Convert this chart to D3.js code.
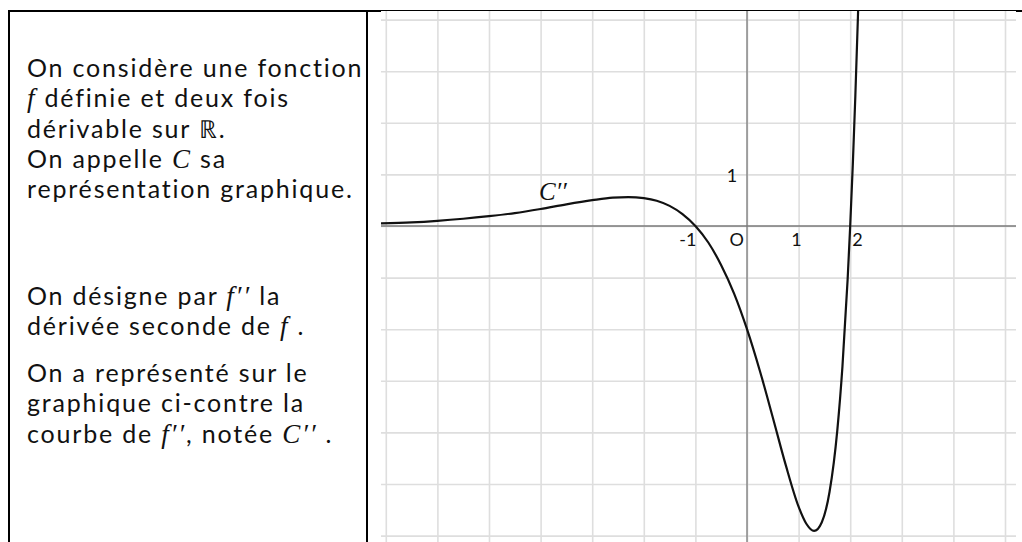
<!DOCTYPE html>
<html>
<head>
<meta charset="utf-8">
<script src="https://cdn.jsdelivr.net/npm/d3@7"></script>
<style>
  body { margin: 0; background: #fff; }
  svg { display: block; }
  .txt { font-family: Lato, "Open Sans", sans-serif; fill: #111; }
  .math { font-family: "Liberation Serif", "DejaVu Serif", serif; font-style: italic; }
</style>
</head>
<body>
<svg id="chart" width="1022" height="542"></svg>
<script>
// curve C'' (x, f''(x))
const curveX = [-7.1, -6.5, -6, -5.5, -5, -4.5, -4, -3.5, -3, -2.6, -2.3, -2, -1.75, -1.5, -1.25, -1,
  -0.75, -0.5, -0.25, 0, 0.25, 0.5, 0.75, 1, 1.15, 1.3, 1.45, 1.6, 1.75, 1.85, 1.95, 2, 2.05, 2.1, 2.15, 2.2];
const curveY = [0.05, 0.07, 0.10, 0.14, 0.19, 0.25, 0.33, 0.42, 0.50, 0.55, 0.56, 0.54, 0.49, 0.39, 0.23, 0,
  -0.32, -0.76, -1.31, -2, -2.81, -3.71, -4.63, -5.44, -5.77, -5.91, -5.74, -5.15, -3.96, -2.72, -1.04, 0, 1.18, 2.53, 4.06, 5.78];

// grid and axis labels
const gridX = [-7, -6, -5, -4, -3, -2, -1, 0, 1, 2, 3, 4, 5];
const gridY = [-6, -5, -4, -3, -2, -1, 0, 1, 2, 3, 4];
const xTickValues = [-1, 0, 1, 2];
const xTickLabels = ['-1', 'O', '1', '2'];
const yTickValues = [1];
const yTickLabels = ['1'];

// left cell text: [text, isMath] segments per line
const block1 = [
  [['On considère une fonction', false]],
  [['f', true], [' définie et deux fois', false]],
  [['dérivable sur ℝ.', false]],
  [['On appelle ', false], ['C', true], [' sa', false]],
  [['représentation graphique.', false]]
];
const block2 = [
  [['On désigne par ', false], ['f′′', true], [' la', false]],
  [['dérivée seconde de ', false], ['f', true], [' .', false]],
  [['On a représenté sur le', false]],
  [['graphique ci-contre la', false]],
  [['courbe de ', false], ['f′′', true], [', notée ', false], ['C′′', true], [' .', false]]
];
const curveLabel = 'C′′';

const svg = d3.select('#chart');
svg.append('rect').attr('width', 1022).attr('height', 542).attr('fill', '#fff');

// plot area in pixels
const plot = { left: 381, right: 1016, top: 11, bottom: 542 };
const unit = 51.6;
const originX = 747;
const originY = 226;

const xScale = d3.scaleLinear()
  .domain([(plot.left - originX) / unit, (plot.right - originX) / unit])
  .range([plot.left, plot.right]);
const yScale = d3.scaleLinear()
  .domain([(originY - plot.bottom) / unit, (originY - plot.top) / unit])
  .range([plot.bottom, plot.top]);

// grid lines
const gridXAxis = d3.axisBottom(xScale).tickValues(gridX)
  .tickSize(-(plot.bottom - plot.top)).tickFormat('');
const gx = svg.append('g')
  .attr('transform', `translate(0, ${plot.bottom})`)
  .call(gridXAxis);
const gridYAxis = d3.axisLeft(yScale).tickValues(gridY)
  .tickSize(-(plot.right - plot.left)).tickFormat('');
const gy = svg.append('g')
  .attr('transform', `translate(${plot.left}, 0)`)
  .call(gridYAxis);
[gx, gy].forEach((g) => {
  g.select('.domain').remove();
  g.selectAll('.tick line').attr('stroke', '#dedede').attr('stroke-width', 1.6);
});

// main axes
svg.append('line')
  .attr('x1', plot.left).attr('x2', plot.right)
  .attr('y1', yScale(0)).attr('y2', yScale(0))
  .attr('stroke', '#7a7a7a').attr('stroke-width', 1.3);
svg.append('line')
  .attr('x1', xScale(0)).attr('x2', xScale(0))
  .attr('y1', plot.top).attr('y2', plot.bottom)
  .attr('stroke', '#7a7a7a').attr('stroke-width', 1.3);

// tick labels
const labelOffsets = { '-1': [1, 'end'], 'O': [-3, 'end'], '1': [-2, 'middle'], '2': [2, 'start'] };
svg.append('g')
  .selectAll('text')
  .data(xTickValues)
  .join('text')
  .attr('class', 'txt')
  .attr('x', (d, i) => xScale(d) + labelOffsets[xTickLabels[i]][0])
  .attr('y', yScale(0) + 20)
  .attr('text-anchor', (d, i) => labelOffsets[xTickLabels[i]][1])
  .style('font-size', '18px')
  .text((d, i) => xTickLabels[i]);
svg.append('g')
  .selectAll('text')
  .data(yTickValues)
  .join('text')
  .attr('class', 'txt')
  .attr('x', xScale(0) - 15)
  .attr('y', (d) => yScale(d) + 8)
  .attr('text-anchor', 'middle')
  .style('font-size', '18px')
  .text((d, i) => yTickLabels[i]);

// curve
svg.append('clipPath').attr('id', 'plot-clip')
  .append('rect')
  .attr('x', plot.left).attr('y', plot.top)
  .attr('width', plot.right - plot.left).attr('height', plot.bottom - plot.top);
const line = d3.line()
  .x((d) => xScale(d[0]))
  .y((d) => yScale(d[1]))
  .curve(d3.curveMonotoneX);
svg.append('path')
  .datum(curveX.map((x, i) => [x, curveY[i]]))
  .attr('clip-path', 'url(#plot-clip)')
  .attr('fill', 'none')
  .attr('stroke', '#111')
  .attr('stroke-width', 2.2)
  .attr('d', line);

svg.append('text')
  .attr('class', 'math')
  .attr('x', xScale(-4.03))
  .attr('y', yScale(0.5))
  .style('font-size', '25px')
  .attr('fill', '#111')
  .text(curveLabel);

// table borders
svg.append('line').attr('x1', 8).attr('x2', plot.left).attr('y1', 11).attr('y2', 11)
  .attr('stroke', '#000').attr('stroke-width', 2);
svg.append('line').attr('x1', plot.left).attr('x2', plot.right).attr('y1', 10.5).attr('y2', 10.5)
  .attr('stroke', '#000').attr('stroke-width', 1);
svg.append('line').attr('x1', plot.right).attr('x2', 1022).attr('y1', 11).attr('y2', 11)
  .attr('stroke', '#000').attr('stroke-width', 2);
svg.append('line').attr('x1', 9).attr('x2', 9).attr('y1', 10).attr('y2', 542)
  .attr('stroke', '#000').attr('stroke-width', 2);
svg.append('line').attr('x1', 367).attr('x2', 367).attr('y1', 10).attr('y2', 542)
  .attr('stroke', '#000').attr('stroke-width', 2);

// left cell text: 25px keeps the 30px line pitch clear, letter spacing fills the cell width
const textLeft = 27;
const fontSize = 25;
const firstLine = block1[0][0][0];
const probe = svg.append('text').attr('class', 'txt').style('font-size', fontSize + 'px').text(firstLine);
const spacing = (335 - probe.node().getComputedTextLength()) / (firstLine.length - 1);
probe.remove();

function drawBlock(lines, baselines) {
  lines.forEach((segs, i) => {
    const t = svg.append('text')
      .attr('class', 'txt')
      .attr('x', textLeft)
      .attr('y', baselines[i])
      .style('font-size', fontSize + 'px')
      .style('letter-spacing', spacing + 'px')
      .attr('xml:space', 'preserve');
    segs.forEach(([s, isMath]) => {
      const ts = t.append('tspan').text(s);
      if (isMath) {
        ts.attr('class', 'math').style('font-size', (fontSize * 1.08) + 'px');
      }
    });
  });
}
drawBlock(block1, [77, 107, 138, 168, 198]);
drawBlock(block2, [305, 335, 382, 412, 443]);
</script>
</body>
</html>
